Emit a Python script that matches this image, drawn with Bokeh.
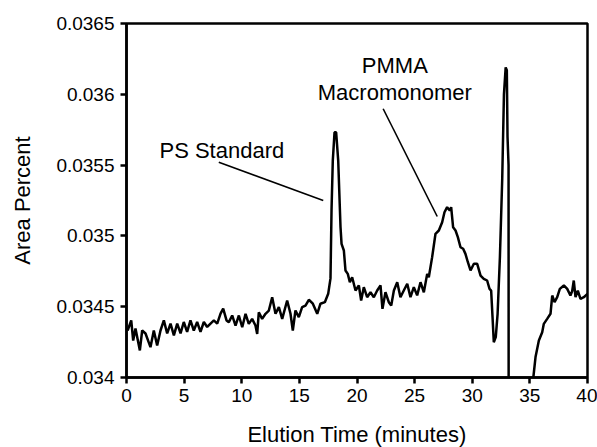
from bokeh.plotting import figure
from bokeh.models import (Range1d, FixedTicker, CustomJSTickFormatter, Title,
                          ColumnDataSource, LinearAxis)
from bokeh.core.properties import value
from bokeh.embed import file_html
from bokeh.resources import INLINE

FONT = "Liberation Sans"

elution_time = [
    0.1, 0.41, 0.58, 0.78, 1.16, 1.36, 1.65, 2.08, 2.37, 2.66, 2.95, 3.24, 3.53, 3.82,
    4.11, 4.40, 4.69, 4.97, 5.26, 5.55, 5.84, 6.13, 6.42, 6.71, 7.00, 7.29, 7.58, 7.87,
    8.16, 8.39, 8.68, 8.88, 9.17, 9.46, 9.75, 10.04, 10.33, 10.61, 10.90, 11.19, 11.34,
    11.48, 11.77, 12.06, 12.35, 12.64, 12.93, 13.22, 13.51, 13.94, 14.23, 14.43, 14.66,
    14.95, 15.24, 15.53, 15.82, 16.17, 16.55, 16.83, 17.21, 17.50, 17.70, 17.79, 17.90,
    18.05, 18.19, 18.37, 18.57, 18.66, 18.86, 19.00, 19.20, 19.38, 19.58, 19.87, 20.16,
    20.36, 20.59, 20.88, 21.17, 21.46, 21.75, 22.04, 22.21, 22.47, 22.76, 22.97, 23.20,
    23.49, 23.77, 24.06, 24.36, 24.64, 24.93, 25.22, 25.51, 25.80, 26.09, 26.23, 26.52,
    26.81, 27.10, 27.39, 27.59, 27.82, 28.05, 28.17, 28.34, 28.55, 28.75, 28.98, 29.21,
    29.41, 29.62, 29.85, 30.14, 30.43, 30.72, 31.00, 31.29, 31.50, 31.64, 31.76, 31.87,
    32.04, 32.20, 32.40, 32.60, 32.75, 32.90, 33.00, 33.06, 33.15, 33.16, 34.65, 35.30,
    35.49, 35.78, 36.07, 36.21, 36.50, 36.79, 36.94, 37.14, 37.37, 37.60, 37.95, 38.24,
    38.52, 38.67, 38.81, 38.96, 39.16, 39.39, 39.68, 40.00,
]
area_percent = [
    0.034332, 0.034403, 0.034261, 0.034346, 0.034191, 0.034332, 0.034311, 0.034214,
    0.034332, 0.034226, 0.034332, 0.034403, 0.034311, 0.034381, 0.034297, 0.034381,
    0.034311, 0.034392, 0.034322, 0.034403, 0.034332, 0.034392, 0.034322, 0.034392,
    0.034357, 0.034381, 0.034403, 0.034381, 0.034451, 0.034486, 0.034403, 0.034391,
    0.034438, 0.034367, 0.034438, 0.034355, 0.034450, 0.034379, 0.034414, 0.034367,
    0.034308, 0.034461, 0.034414, 0.034450, 0.034473, 0.034567, 0.034450, 0.034497,
    0.034414, 0.034544, 0.034450, 0.034332, 0.034473, 0.034426, 0.034497, 0.034508,
    0.034549, 0.034521, 0.034450, 0.034521, 0.034532, 0.034591, 0.034700, 0.035179,
    0.035532, 0.035732, 0.035732, 0.035532, 0.035061, 0.034944, 0.034897, 0.034756,
    0.034732, 0.034673, 0.034708, 0.034614, 0.034650, 0.034544, 0.034638, 0.034567,
    0.034602, 0.034567, 0.034614, 0.034650, 0.034485, 0.034602, 0.034532, 0.034508,
    0.034614, 0.034673, 0.034567, 0.034614, 0.034662, 0.034567, 0.034638, 0.034580,
    0.034673, 0.034602, 0.034732, 0.034708, 0.034850, 0.035015, 0.035038, 0.035097,
    0.035167, 0.035203, 0.035179, 0.035203, 0.035061, 0.035038, 0.034991, 0.034920,
    0.034909, 0.034873, 0.034814, 0.034756, 0.034803, 0.034803, 0.034720, 0.034697,
    0.034685, 0.034626, 0.034614, 0.034426, 0.034249, 0.034285, 0.034450, 0.034850,
    0.035400, 0.036000, 0.036190, 0.036170, 0.035700, 0.035500, 0.033500, 0.033500,
    0.034000, 0.034144, 0.034261, 0.034320, 0.034379, 0.034414, 0.034450, 0.034579,
    0.034532, 0.034567, 0.034626, 0.034650, 0.034626, 0.034579, 0.034610, 0.034685,
    0.034567, 0.034614, 0.034555, 0.034567, 0.034591,
]

x_ticks = [0, 5, 10, 15, 20, 25, 30, 35, 40]
y_ticks = [0.034, 0.0345, 0.035, 0.0355, 0.036, 0.0365]
y_tick_labels = ["0.034", "0.0345", "0.035", "0.0355", "0.036", "0.0365"]

# annotation texts and leader lines (data coordinates)
note_text = ["PS Standard", "PMMA", "Macromonomer"]
note_x = [2.86, 23.28, 23.28]
note_y = [0.035603, 0.036203, 0.036015]
note_align = ["left", "center", "center"]
leader_x0 = [8.01, 22.27]
leader_y0 = [0.035520, 0.035898]
leader_x1 = [17.07, 26.96]
leader_y1 = [0.035250, 0.035137]

x_title = "Elution Time (minutes)"
y_title = "Area Percent"

p = figure(width=597, height=447, output_backend="svg", toolbar_location=None,
           x_range=Range1d(0, 40), y_range=Range1d(0.034, 0.0365),
           min_border_left=126, min_border_right=10, min_border_top=23, min_border_bottom=70)
p.background_fill_color = "white"
p.border_fill_color = "white"
p.grid.visible = False
p.outline_line_color = "black"
p.outline_line_width = 2.5

p.line(elution_time, area_percent, line_color="black", line_width=2.5)

p.segment(x0=leader_x0, y0=leader_y0, x1=leader_x1, y1=leader_y1,
          line_color="black", line_width=1.6)

src = ColumnDataSource(dict(x=note_x, y=note_y, t=note_text, a=note_align))
p.text(x="x", y="y", text="t", text_align="a", text_baseline="alphabetic",
       text_font=value(FONT), text_font_size="22px", text_color="black", source=src)

for ax in (p.xaxis[0], p.yaxis[0]):
    ax.axis_line_width = 2.5
    ax.axis_line_color = "black"
    ax.major_tick_line_width = 2.5
    ax.major_tick_out = 6
    ax.major_tick_in = 0
    ax.minor_tick_line_color = None
    ax.major_label_text_font = FONT
    ax.major_label_text_font_size = "19px"
    ax.major_label_text_color = "black"

p.xaxis[0].ticker = FixedTicker(ticks=x_ticks)
p.xaxis[0].major_label_standoff = 5
p.yaxis[0].ticker = FixedTicker(ticks=y_ticks)
p.yaxis[0].major_label_standoff = 6
p.yaxis[0].formatter = CustomJSTickFormatter(
    args=dict(tick_vals=y_ticks, tick_txt=y_tick_labels),
    code="""
    let best = 0;
    for (let i = 0; i < tick_vals.length; i++) {
        if (Math.abs(tick_vals[i] - tick) < Math.abs(tick_vals[best] - tick)) best = i;
    }
    return tick_txt[best];
    """)

p.yaxis[0].axis_label = y_title
p.yaxis[0].axis_label_text_font = FONT
p.yaxis[0].axis_label_text_font_size = "22px"
p.yaxis[0].axis_label_text_font_style = "normal"
p.yaxis[0].axis_label_text_color = "black"
p.yaxis[0].axis_label_standoff = 18

# invisible spacer between the tick labels and the x title
spacer = LinearAxis(ticker=FixedTicker(ticks=[x_ticks[4]]),
                    formatter=CustomJSTickFormatter(code="return ''"),
                    axis_line_color=None, major_tick_line_color=None,
                    minor_tick_line_color=None, major_tick_out=15, major_tick_in=0,
                    minor_tick_out=0, major_label_standoff=0,
                    major_label_text_font_size="1px")
p.add_layout(spacer, "below")

p.add_layout(Title(text=x_title, align="center", offset=12, text_font=FONT,
                   text_font_size="22px", text_font_style="normal", text_color="black",
                   standoff=0), "below")

open("out.html", "w").write(file_html(p, INLINE))
